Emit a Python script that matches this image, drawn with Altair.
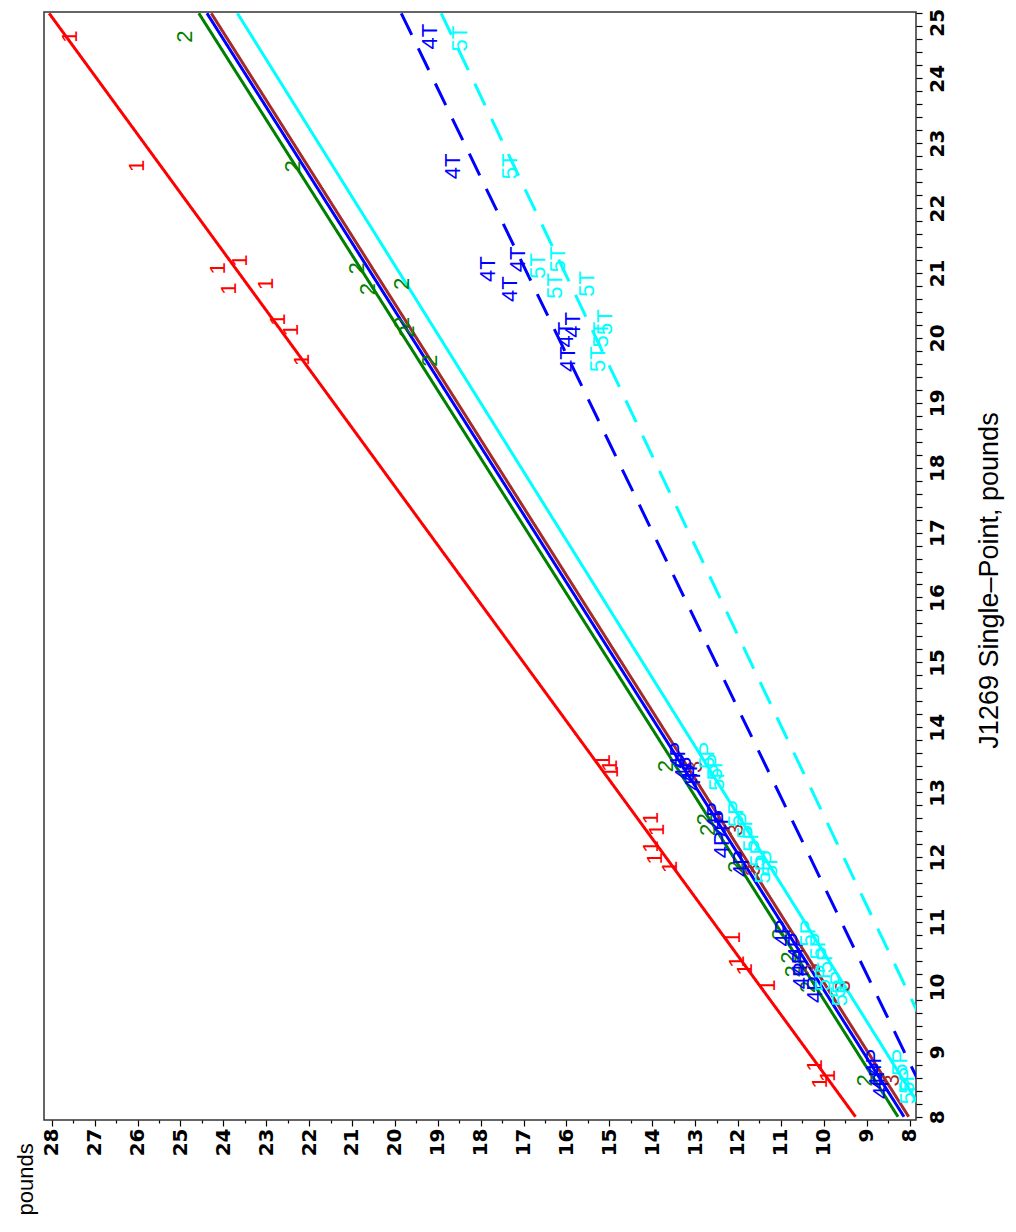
import altair as alt
import pandas as pd

# ---- groups and colours ----
groups = ["1", "2", "3", "4P", "4T", "5P", "5T"]
colors = ["#FF0000", "#008000", "#A52A2A", "#0000FF", "#0000FF", "#00FFFF", "#00FFFF"]
dashes = [[1, 0], [1, 0], [1, 0], [1, 0], [24, 15], [1, 0], [24, 15]]
widths = [3, 3, 3, 3, 4, 3, 4]

# ---- data points: J = J1269 single-point (lb), P = pounds ----
g1_j = [24.64, 22.65, 21.19, 21.07, 20.76, 20.83, 20.28, 20.12, 19.66,
        13.49, 13.41, 13.31, 12.60, 12.42, 12.16, 11.98, 11.85,
        10.76, 10.39, 10.27, 10.02, 8.79, 8.63, 8.53]
g1_p = [27.58, 26.01, 23.61, 24.12, 23.86, 23.01, 22.72, 22.42, 22.17,
        15.14, 14.99, 14.95, 14.02, 13.90, 14.02, 13.94, 13.59,
        12.12, 12.03, 11.84, 11.30, 10.21, 9.90, 10.09]

g2_j = [24.64, 22.64, 21.07, 20.75, 20.83, 20.23, 20.10, 19.65,
        13.40, 12.58, 12.42, 11.85, 10.81, 10.45, 10.24, 10.00, 8.56]
g2_p = [24.89, 22.38, 20.89, 20.62, 19.84, 19.84, 19.72, 19.18,
        13.67, 12.77, 12.70, 12.04, 11.03, 10.80, 10.72, 10.37, 9.05]

g3_j = [13.39, 12.42, 11.80, 10.27, 10.01, 8.56]
g3_p = [13.01, 12.04, 11.65, 10.25, 9.55, 8.42]

g4p_j = [13.57, 13.39, 13.34, 13.23, 12.64, 12.52, 12.19, 11.90,
         10.83, 10.63, 10.37, 10.17, 9.96, 8.84, 8.63, 8.48]
g4p_p = [13.40, 13.28, 13.12, 13.05, 12.54, 12.38, 12.38, 11.92,
         10.95, 10.64, 10.56, 10.52, 10.21, 8.82, 8.75, 8.66]

g5p_j = [13.57, 13.39, 13.23, 12.67, 12.49, 12.29, 12.06, 11.90, 11.80,
         10.83, 10.63, 10.42, 10.14, 10.04, 9.91, 8.84, 8.56, 8.40]
g5p_p = [12.73, 12.54, 12.50, 12.04, 11.84, 11.69, 11.53, 11.26, 11.42,
         10.37, 10.13, 9.98, 10.02, 9.67, 9.63, 8.23, 8.07, 8.04]

g4t_j = [24.64, 22.64, 21.06, 20.75, 21.21, 20.20, 20.05, 19.67]
g4t_p = [19.18, 18.64, 17.83, 17.32, 17.13, 15.85, 16.00, 15.96]

g5t_j = [24.61, 22.64, 21.11, 21.21, 20.80, 20.83, 20.24, 20.05, 19.67]
g5t_p = [18.48, 17.32, 16.66, 16.19, 16.27, 15.53, 15.10, 15.20, 15.27]

# ---- fitted lines: value of P at J = 8 and J = 25 ----
line_j = [8, 25]
line_p_at8 = [9.26, 8.27, 8.02, 8.13, 7.39, 7.61, 6.65]
line_p_at25 = [28.06, 24.57, 24.28, 24.38, 19.85, 23.67, 18.92]

# ---- axis ticks ----
x_ticks = [8 + 0.5 * i for i in range(41)]
y_ticks = [round(8 + 0.2 * i, 1) for i in range(86)]

point_sets = {"1": (g1_j, g1_p), "2": (g2_j, g2_p), "3": (g3_j, g3_p),
              "4P": (g4p_j, g4p_p), "4T": (g4t_j, g4t_p),
              "5P": (g5p_j, g5p_p), "5T": (g5t_j, g5t_p)}
rows = []
for g, (js, ps) in point_sets.items():
    for j, p in zip(js, ps):
        rows.append({"group": g, "J": j, "P": p})
pts = pd.DataFrame(rows)

lrows = []
for g, p8, p25 in zip(groups, line_p_at8, line_p_at25):
    lrows.append({"group": g, "J": line_j[0], "P": p8})
    lrows.append({"group": g, "J": line_j[1], "P": p25})
lines = pd.DataFrame(lrows)

is_int = "abs(datum.value - round(datum.value)) < 0.001"

x_axis = alt.Axis(
    orient="bottom", values=x_ticks, tickCount=500,
    labelExpr=f"{is_int} ? format(datum.value, 'd') : ''",
    tickSize={"condition": {"test": is_int, "value": 6}, "value": 3},
    tickColor="black", tickWidth=1.2, domain=False, grid=False,
    labelAngle=270, labelAlign="right", labelBaseline="middle",
    labelFont="DejaVu Sans", labelFontWeight="bold", labelFontSize=20,
    labelColor="black", labelPadding=2, labelOverlap=False, labelFlush=False,
    title="pounds", titleAngle=270, titleAlign="left", titleBaseline="middle",
    titleX=-19, titleY=95, titleFont="Liberation Sans", titleFontSize=22,
    titleFontWeight="normal", titleColor="black",
)
y_axis = alt.Axis(
    orient="right", values=y_ticks, tickCount=500,
    labelExpr=f"{is_int} ? format(datum.value, 'd') : ''",
    labelOffset={"condition": {"test": "datum.value > 24.9", "value": 9}, "value": 0},
    tickSize=6, tickColor="black", tickWidth=1.2, domain=False, grid=False,
    labelAngle=270, labelAlign="center", labelBaseline="top",
    labelFont="DejaVu Sans", labelFontWeight="bold", labelFontSize=20,
    labelColor="black", labelPadding=5, labelOverlap=False, labelFlush=False,
    title="J1269 Single\u2013Point, pounds", titleAngle=270, titleAlign="center",
    titleBaseline="top", titleX=60, titleY=568, titleFont="Liberation Sans",
    titleFontSize=27, titleFontWeight="normal", titleColor="black",
)

xs = alt.Scale(domain=[7.85, 28.18], reverse=True, nice=False, zero=False)
ys = alt.Scale(domain=[7.95, 25.02], nice=False, zero=False)
cs = alt.Scale(domain=groups, range=colors)

line_layer = alt.Chart(lines).mark_line(clip=True).encode(
    x=alt.X("P:Q", scale=xs, axis=x_axis),
    y=alt.Y("J:Q", scale=ys, axis=y_axis),
    color=alt.Color("group:N", scale=cs, legend=None),
    strokeDash=alt.StrokeDash("group:N", scale=alt.Scale(domain=groups, range=dashes), legend=None),
    strokeWidth=alt.StrokeWidth("group:N", scale=alt.Scale(domain=groups, range=widths), legend=None),
)

text_layer = alt.Chart(pts).mark_text(
    angle=270, align="center", baseline="middle",
    font="Liberation Sans", fontSize=22, clip=True,
).encode(
    x=alt.X("P:Q", scale=xs),
    y=alt.Y("J:Q", scale=ys),
    text="group:N",
    color=alt.Color("group:N", scale=cs, legend=None),
)

chart = alt.layer(line_layer, text_layer).properties(
    width=872, height=1108,
    autosize=alt.AutoSizeParams(type="none"),
    padding={"left": 36, "top": 4, "right": 92, "bottom": 104},
    background="white",
).configure_view(stroke="#333333", strokeWidth=1.5)

chart.save("out.html", embed_options={"renderer": "svg", "actions": False})
